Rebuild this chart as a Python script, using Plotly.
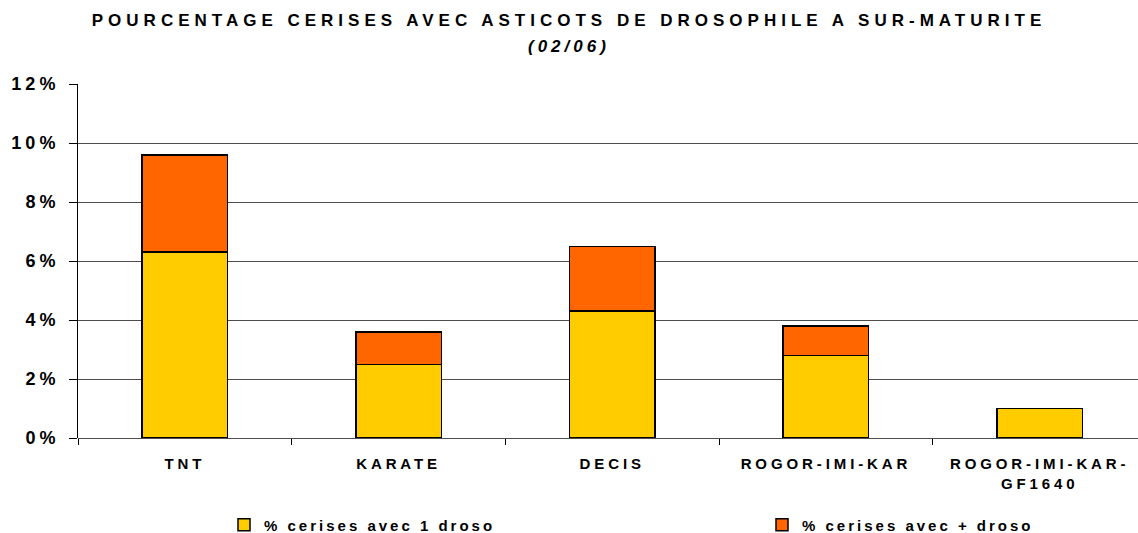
import plotly.graph_objects as go

categories = ["TNT", "KARATE", "DECIS", "ROGOR-IMI-KAR", "ROGOR-IMI-KAR-<br>GF1640"]
one_droso = [6.3, 2.5, 4.3, 2.8, 1.0]
plus_droso = [3.3, 1.1, 2.2, 1.0, 0.0]
y_ticks = [0, 2, 4, 6, 8, 10, 12]
y_tick_labels = ["0%", "2%", "4%", "6%", "8%", "10%", "12%"]
title_text = "POURCENTAGE CERISES AVEC ASTICOTS DE DROSOPHILE A SUR-MATURITE"
subtitle_text = "(02/06)"
series_names = ["% cerises avec 1 droso", "% cerises avec + droso"]

FONT = "Liberation Sans, Arial, sans-serif"
PLOT_W = 1060.0
PLOT_H = 354.0


def spaced(text, px, italic=False):
    inner = "<b><i>" + text + "</i></b>" if italic else "<b>" + text + "</b>"
    return '<span style="letter-spacing:%spx">%s</span>' % (px, inner)


fig = go.Figure()
fig.add_trace(go.Bar(
    x=categories, y=one_droso, name=spaced(series_names[0], 3),
    marker=dict(color="#FFCC00", line=dict(color="#000000", width=1.5)),
    width=0.4, legend="legend", showlegend=True,
))
fig.add_trace(go.Bar(
    x=categories, y=plus_droso, name=spaced(series_names[1], 3),
    marker=dict(color="#FF6600", line=dict(color="#000000", width=1.5)),
    width=0.4, legend="legend2", showlegend=True,
))

legend_y = (438 - 525) / PLOT_H

fig.update_layout(
    width=1138, height=533,
    barmode="stack",
    showlegend=True,
    paper_bgcolor="white", plot_bgcolor="white",
    margin=dict(l=78, r=0, t=84, b=95, autoexpand=False),
    font=dict(family=FONT, color="#000000"),
    title=dict(
        text=spaced(title_text, 5),
        x=0.5, xref="container", xanchor="center",
        y=1 - 20 / 533, yref="container", yanchor="middle",
        font=dict(size=17, family=FONT),
    ),
    annotations=[dict(
        text=spaced(subtitle_text, 4, italic=True),
        x=(569 - 78) / PLOT_W, xref="paper", xanchor="center",
        y=(438 - 46) / PLOT_H, yref="paper", yanchor="middle",
        showarrow=False, font=dict(size=17, family=FONT),
    )],
    xaxis=dict(
        range=[-0.5, 4.46],
        tickmode="array", tickvals=categories,
        ticktext=["<br>".join(spaced(p, 3.9) for p in c.split("<br>")) for c in categories],
        showline=False, ticks="outside", tickson="boundaries",
        ticklen=6, tickcolor="#000000",
        ticklabelstandoff=15,
        tickfont=dict(size=15, family=FONT),
        showgrid=False,
    ),
    yaxis=dict(
        range=[0, 12], tickvals=y_ticks,
        ticktext=[spaced(t, 4) for t in y_tick_labels],
        showline=True, linecolor="#000000", linewidth=1,
        ticks="outside", ticklen=8, tickcolor="#000000",
        ticklabelstandoff=6,
        showgrid=True, gridcolor="#4d4d4d", gridwidth=1,
        tickfont=dict(size=18, family=FONT),
        zeroline=True, zerolinecolor="#4d4d4d", zerolinewidth=1,
    ),
    legend=dict(
        x=(224 - 78) / PLOT_W, xanchor="left", y=legend_y, yanchor="middle",
        font=dict(size=15, family=FONT), bgcolor="rgba(0,0,0,0)",
    ),
    legend2=dict(
        x=(762 - 78) / PLOT_W, xanchor="left", y=legend_y, yanchor="middle",
        font=dict(size=15, family=FONT), bgcolor="rgba(0,0,0,0)",
    ),
)

post = "document.body.style.margin = '0';"
fig.write_html("out.html", post_script=post, config={"displayModeBar": False})
